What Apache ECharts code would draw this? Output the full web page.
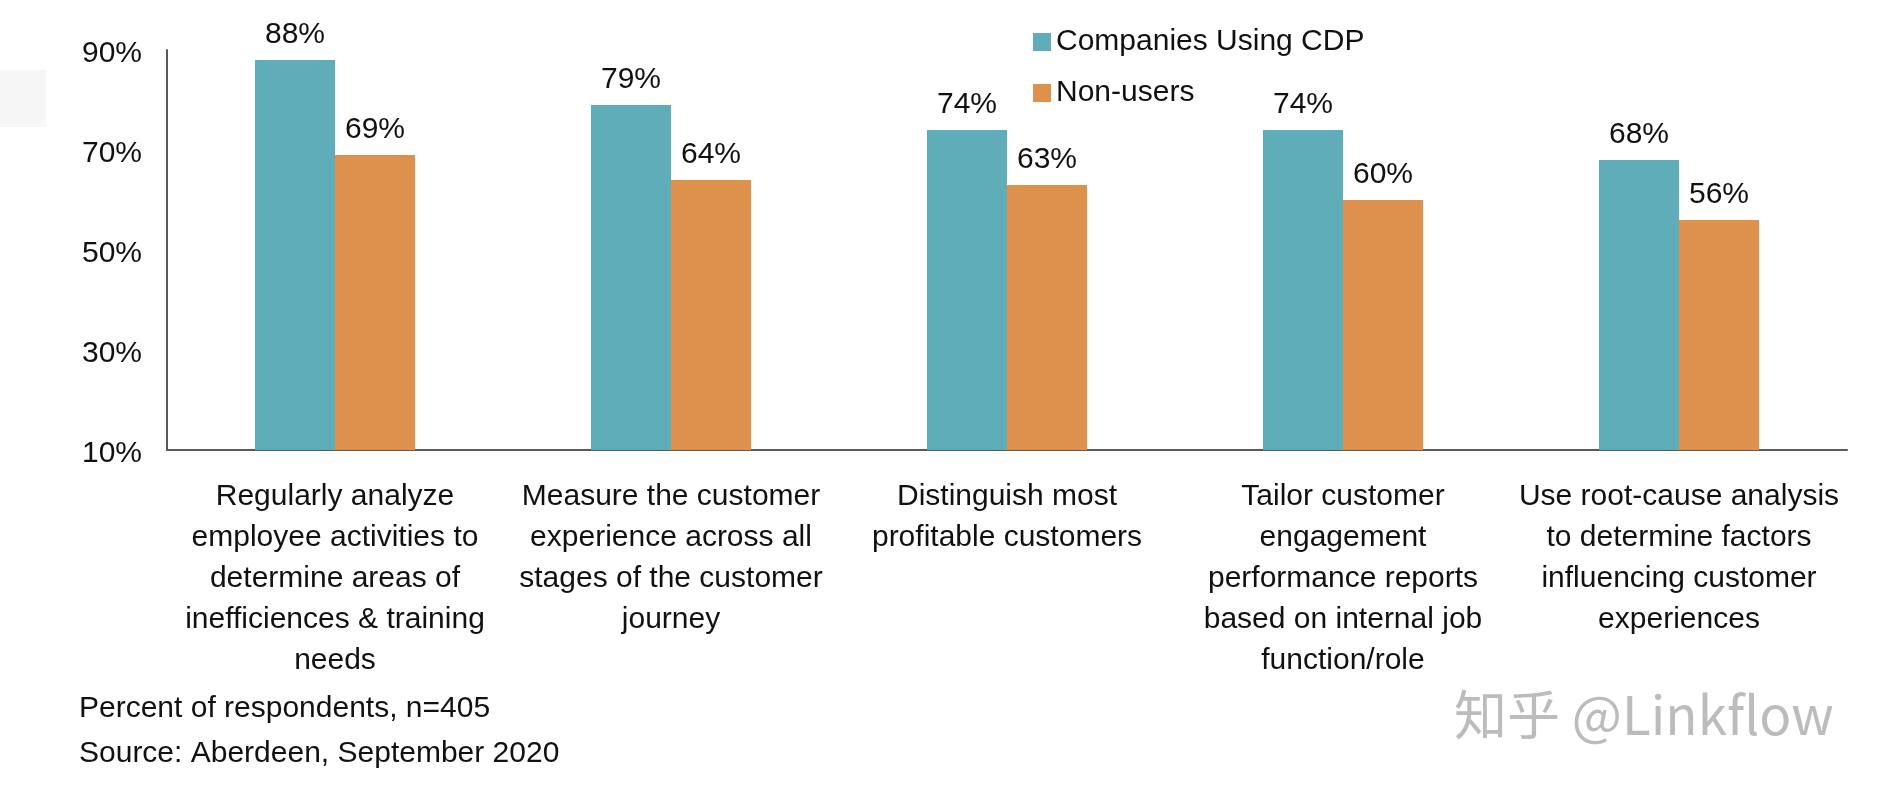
<!DOCTYPE html>
<html>
<head>
<meta charset="utf-8">
<script src="https://cdn.jsdelivr.net/npm/echarts@6/dist/echarts.min.js"></script>
<style>
html,body{margin:0;padding:0;background:#fff;}
#chart{width:1882px;height:794px;}
</style>
</head>
<body>
<div id="chart"></div>
<script>
const categories = [
  "Regularly analyze\nemployee activities to\ndetermine areas of\ninefficiences & training\nneeds",
  "Measure the customer\nexperience across all\nstages of the customer\njourney",
  "Distinguish most\nprofitable customers",
  "Tailor customer\nengagement\nperformance reports\nbased on internal job\nfunction/role",
  "Use root-cause analysis\nto determine factors\ninfluencing customer\nexperiences"
];
const cdpUsers = [88, 79, 74, 74, 68];
const nonUsers = [69, 64, 63, 60, 56];
const seriesNames = ["Companies Using CDP", "Non-users"];
const footnotes = ["Percent of respondents, n=405", "Source: Aberdeen, September 2020"];
const watermark = "知乎 @Linkflow";

const FONT = "'Liberation Sans', Arial, sans-serif";
const chart = echarts.init(document.getElementById('chart'));
const labelStyle = {
  show: true, position: 'top', distance: 10,
  formatter: '{c}%', fontSize: 30, color: '#111', fontFamily: FONT
};
chart.setOption({
  backgroundColor: '#ffffff',
  animation: false,
  textStyle: { fontFamily: FONT },
  grid: { left: 167, right: 35, top: 50, height: 400, containLabel: false },
  legend: {
    orient: 'vertical', left: 1028, top: 22,
    itemWidth: 18, itemHeight: 18, itemGap: 21,
    icon: 'rect',
    textStyle: { fontSize: 30, color: '#111', fontFamily: FONT }
  },
  xAxis: {
    type: 'category', data: categories,
    axisLine: { lineStyle: { color: '#5a5a5a', width: 2 } },
    axisTick: { show: false },
    axisLabel: { interval: 0, fontSize: 30, lineHeight: 41, color: '#111', margin: 26, fontFamily: FONT }
  },
  yAxis: {
    type: 'value', min: 10, max: 90, interval: 20,
    axisLine: { show: true, lineStyle: { color: '#5a5a5a', width: 2 } },
    axisTick: { show: false },
    splitLine: { show: false },
    axisLabel: { formatter: '{value}%', fontSize: 30, color: '#111', margin: 25, verticalAlign: 'top', lineHeight: 8, fontFamily: FONT }
  },
  series: [
    { name: seriesNames[0], type: 'bar', data: cdpUsers, barWidth: 80, barGap: '0%',
      itemStyle: { color: '#5fadb8' }, label: labelStyle },
    { name: seriesNames[1], type: 'bar', data: nonUsers, barWidth: 80, barGap: '0%',
      itemStyle: { color: '#de914a' }, label: labelStyle }
  ],
  graphic: [
    { type: 'rect', left: 0, top: 70, shape: { width: 46, height: 57 }, style: { fill: '#f6f6f6' }, z: -1 },
    { type: 'text', left: 79, top: 711 - 17, style: { text: footnotes[0], fontSize: 30, fill: '#111', fontFamily: FONT } },
    { type: 'text', left: 79, top: 756 - 17, style: { text: footnotes[1], fontSize: 30, fill: '#111', fontFamily: FONT } },
    { type: 'text', left: 1454, top: 718 - 30, style: { text: watermark, fontSize: 53, fill: '#bcbcbc',
      fontFamily: "'Noto Sans CJK SC', 'Noto Sans', sans-serif",
      textShadowColor: 'rgba(255,255,255,0.9)', textShadowOffsetX: -2, textShadowOffsetY: -2, textShadowBlur: 1 } }
  ]
});
</script>
</body>
</html>
